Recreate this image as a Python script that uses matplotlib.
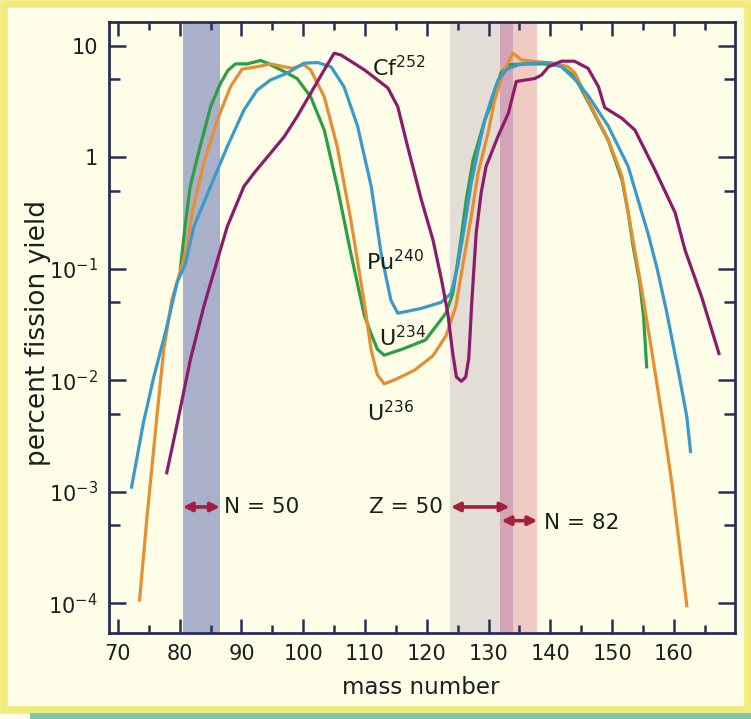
import matplotlib
matplotlib.use("Agg")
import matplotlib.pyplot as plt
from matplotlib.patches import Rectangle
from matplotlib.ticker import FixedLocator, MultipleLocator, NullFormatter

# ---------------- data (percent fission yield vs mass number) ----------------
pu240_mass = [72.2, 74.1, 75.8, 77.9, 79.6, 80.9, 82.3, 85.0, 87.7, 90.4, 92.5, 94.7,
              97.4, 100.1, 102.3, 104.5, 106.6, 108.8, 111.0, 112.6, 114.2, 115.3,
              119.0, 122.3, 123.9, 125.0, 126.1, 127.2, 128.3, 129.4, 130.4, 131.5,
              133.0, 135.0, 137.5, 139.6, 141.8, 144.0, 146.1, 149.4, 152.6, 155.9,
              157.3, 158.8, 160.8, 162.1, 162.7]
pu240_yield = [1.1e-3, 4.1e-3, 1.07e-2, 0.030, 0.076, 0.11, 0.24, 0.55, 1.25, 2.66,
               4.0, 4.95, 5.7, 7.0, 7.1, 6.5, 4.3, 1.9, 0.55, 0.138, 0.052, 0.040,
               0.044, 0.050, 0.060, 0.105, 0.24, 0.59, 1.16, 2.17, 3.27, 4.9, 6.2,
               6.8, 7.0, 7.1, 6.5, 5.0, 3.6, 1.9, 0.83, 0.20, 0.10, 0.042, 0.0115,
               0.0047, 0.0023]

u234_mass = [80.1, 80.9, 81.7, 83.3, 85.0, 86.6, 87.8, 89.0, 90.9, 93.1, 94.2, 96.9,
             99.0, 101.2, 103.4, 105.5, 107.7, 109.9, 111.0, 112.0, 113.1, 116.0,
             119.8, 123.1, 124.2, 125.3, 126.4, 127.5, 129.4, 130.7, 132.0, 133.5,
             136.0, 139.0, 141.8, 144.0, 146.1, 149.4, 151.6, 152.6, 153.4, 154.5,
             155.1, 155.6]
u234_yield = [0.100, 0.251, 0.55, 1.25, 2.85, 4.62, 6.03, 6.9, 6.9, 7.4, 7.0, 5.9,
              5.1, 3.5, 1.76, 0.55, 0.138, 0.038, 0.026, 0.019, 0.0168, 0.019,
              0.023, 0.040, 0.060, 0.148, 0.42, 0.95, 2.17, 3.27, 5.75, 6.8, 6.9,
              6.9, 6.6, 5.25, 3.16, 1.41, 0.63, 0.32, 0.16, 0.074, 0.037, 0.0132]

u236_mass = [73.5, 74.7, 76.3, 77.4, 78.7, 80.2, 81.1, 82.0, 83.9, 86.1, 88.2, 90.1,
             92.5, 94.7, 96.9, 98.2, 100.1, 101.2, 103.4, 105.5, 107.7, 109.9, 111.0,
             112.0, 113.1, 115.0, 118.0, 121.0, 123.1, 124.7, 125.8, 127.2, 128.3,
             129.9, 131.0, 132.3, 133.4, 134.0, 135.3, 138.0, 140.7, 142.9, 144.0,
             146.1, 149.4, 151.6, 153.4, 154.8, 156.4, 158.1, 159.7, 161.0, 162.1]
u236_yield = [1.07e-4, 5.9e-4, 4.7e-3, 0.0186, 0.052, 0.100, 0.148, 0.316, 0.89,
              2.17, 4.3, 6.2, 6.5, 6.9, 6.5, 6.3, 6.8, 6.1, 3.5, 1.25, 0.275, 0.049,
              0.0186, 0.0112, 0.0093, 0.0102, 0.0123, 0.0166, 0.025, 0.046, 0.105,
              0.295, 0.72, 1.64, 3.27, 5.6, 7.6, 8.6, 7.5, 7.2, 7.0, 6.5, 5.7, 3.27,
              1.43, 0.68, 0.178, 0.065, 0.0186, 4.7e-3, 1.17e-3, 3.0e-4, 9.5e-5]

cf252_mass = [77.9, 79.6, 81.7, 83.9, 86.1, 87.7, 90.4, 92.0, 94.2, 96.9, 99.0, 101.2,
              103.4, 105.0, 106.1, 109.9, 113.7, 115.3, 116.9, 119.1, 121.0, 122.4,
              123.4, 124.2, 124.8, 125.6, 126.3, 126.8, 127.3, 128.0, 128.8, 129.6,
              131.5, 133.2, 134.5, 135.5, 137.5, 138.6, 139.7, 141.8, 143.9, 146.1,
              147.8, 148.8, 151.6, 153.7, 156.9, 160.2, 161.8, 164.5, 167.3]
cf252_yield = [1.48e-3, 4.1e-3, 0.0151, 0.046, 0.12, 0.24, 0.55, 0.72, 1.01, 1.53,
               2.32, 3.76, 6.1, 8.6, 8.3, 6.1, 4.2, 2.85, 1.25, 0.42, 0.182, 0.079,
               0.040, 0.0174, 0.0107, 0.0098, 0.0107, 0.0158, 0.052, 0.21, 0.48,
               0.83, 1.53, 2.49, 4.8, 4.9, 5.1, 5.5, 6.5, 7.3, 7.3, 6.3, 4.3, 2.8,
               2.24, 1.76, 0.78, 0.32, 0.148, 0.056, 0.0174]

# shell-closure bands (mass-number ranges)
band_n50 = (80.5, 86.5)
band_z50 = (123.8, 134.0)
band_n82 = (131.8, 137.8)

# arrow annotations: (start, end, yield level, label)
arrow_n50 = (80.5, 86.5, 7.3e-4, "N = 50")
arrow_z50 = (123.9, 133.4, 7.3e-4, "Z = 50")
arrow_n82 = (132.1, 137.9, 5.5e-4, "N = 82")

xtick_values = [70, 80, 90, 100, 110, 120, 130, 140, 150, 160]
xtick_labels = ["70", "80", "90", "100", "110", "120", "130", "140", "150", "160"]
ytick_values = [1e-4, 1e-3, 1e-2, 1e-1, 1, 10]
ytick_labels = [r"$10^{-4}$", r"$10^{-3}$", r"$10^{-2}$", r"$10^{-1}$", "1", "10"]
yminor_values = [5e-4, 5e-3, 5e-2, 0.5, 5]

# ---------------- styling ----------------
W, H = 751, 719
BG = "#FDFDE8"
SPINE = "#2B2D58"
C_BLUE = "#3A9AC9"
C_GREEN = "#2E9E44"
C_ORANGE = "#E78E33"
C_PURPLE = "#8B1C6C"
C_ARROW = "#A3203C"
TXT = "#1E1E1E"

plt.rcParams["font.family"] = ["DejaVu Sans"]
plt.rcParams["mathtext.fontset"] = "dejavusans"

fig = plt.figure(figsize=(W / 100, H / 100), dpi=100)
fig.patch.set_facecolor(BG)

# outer frame (yellow) and bottom teal strip
fig.patches.append(Rectangle((3.5 / W, 9.5 / H), (W - 7) / W, (H - 13) / H,
                             transform=fig.transFigure, fill=False,
                             edgecolor="#F1EB7C", linewidth=5.5, zorder=0))
fig.patches.append(Rectangle((30 / W, 0), (W - 30) / W, 6 / H,
                             transform=fig.transFigure, facecolor="#7DC6AC",
                             edgecolor="none", zorder=0))

ax = fig.add_axes([109 / W, 1 - 633 / H, (735 - 109) / W, (633 - 22) / H])
ax.set_facecolor(BG)
ax.set_yscale("log")
ax.set_xlim(68.55, 169.9)
ax.set_ylim(5.4e-5, 16.4)

# bands
ax.axvspan(band_n50[0], band_n50[1], color="#A9B0CA", lw=0, zorder=1)
ov0, ov1 = max(band_z50[0], band_n82[0]), min(band_z50[1], band_n82[1])
ax.axvspan(band_z50[0], ov0, color="#E2DDD5", lw=0, zorder=1)
ax.axvspan(ov0, ov1, color="#D3A4B8", lw=0, zorder=1)
ax.axvspan(ov1, band_n82[1], color="#EFCBC4", lw=0, zorder=1)

# curves
lw = 2.3
ax.plot(u234_mass, u234_yield, color=C_GREEN, lw=lw, zorder=3, solid_joinstyle="round")
ax.plot(u236_mass, u236_yield, color=C_ORANGE, lw=lw, zorder=3, solid_joinstyle="round")
ax.plot(pu240_mass, pu240_yield, color=C_BLUE, lw=lw, zorder=3, solid_joinstyle="round")
ax.plot(cf252_mass, cf252_yield, color=C_PURPLE, lw=lw, zorder=4, solid_joinstyle="round")

# curve labels
lab_fs = 16
ax.text(111.2, 6.4, r"Cf$^{252}$", fontsize=lab_fs, color=TXT, ha="left", va="center", zorder=5)
ax.text(110.1, 0.116, r"Pu$^{240}$", fontsize=lab_fs, color=TXT, ha="left", va="center", zorder=5)
ax.text(112.25, 0.024, r"U$^{234}$", fontsize=lab_fs, color=TXT, ha="left", va="center", zorder=5)
ax.text(110.4, 0.0051, r"U$^{236}$", fontsize=lab_fs, color=TXT, ha="left", va="center", zorder=5)

# arrows
for (a0, a1, yv, lab) in (arrow_n50, arrow_z50, arrow_n82):
    ax.annotate("", xy=(a1, yv), xytext=(a0, yv),
                arrowprops=dict(arrowstyle="<|-|>", color=C_ARROW, lw=2.6,
                                mutation_scale=13, shrinkA=0, shrinkB=0),
                zorder=5)
ax.text(87.2, arrow_n50[2], arrow_n50[3], fontsize=15.5, color=TXT, ha="left", va="center")
ax.text(122.6, arrow_z50[2], arrow_z50[3], fontsize=15.5, color=TXT, ha="right", va="center")
ax.text(139.0, 5.2e-4, arrow_n82[3], fontsize=15.5, color=TXT, ha="left", va="center")

# ticks
ax.xaxis.set_major_locator(FixedLocator(xtick_values))
ax.set_xticklabels(xtick_labels)
ax.xaxis.set_minor_locator(MultipleLocator(5))
ax.yaxis.set_major_locator(FixedLocator(ytick_values))
ax.set_yticklabels(ytick_labels)
ax.yaxis.set_minor_locator(FixedLocator(yminor_values))
ax.yaxis.set_minor_formatter(NullFormatter())

ax.tick_params(axis="both", which="both", direction="in", top=True, right=True,
               color=SPINE, width=1.8, labelcolor=TXT, labelsize=15)
ax.tick_params(axis="x", which="major", length=10, pad=8)
ax.tick_params(axis="x", which="minor", length=6)
ax.tick_params(axis="y", which="major", length=12, pad=8)
ax.tick_params(axis="y", which="minor", length=8)

for sp in ax.spines.values():
    sp.set_color(SPINE)
    sp.set_linewidth(2.0)
    sp.set_zorder(6)

fig.text(38 / W, 1 - 333 / H, "percent fission yield", rotation=90,
         ha="center", va="center", fontsize=19, color=TXT)
fig.text(421 / W, 1 - 688 / H, "mass number", ha="center", va="center",
         fontsize=16.5, color=TXT)

fig.savefig("out.png", dpi=100, facecolor=BG)
